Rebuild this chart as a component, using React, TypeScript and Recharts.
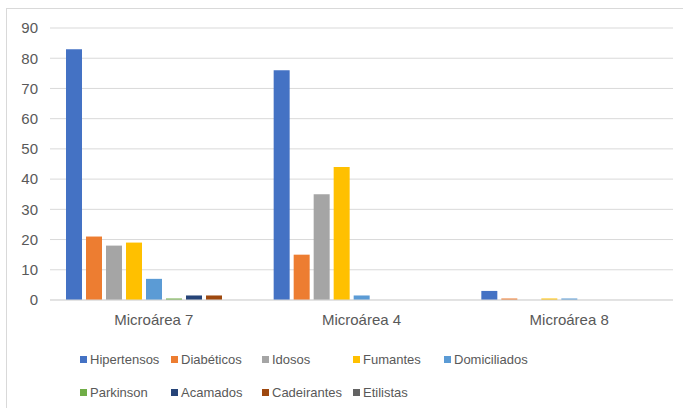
import { Bar, BarChart, CartesianGrid, Legend, XAxis, YAxis } from "recharts";

const areas = ["Microárea 7", "Microárea 4", "Microárea 8"];

const hipertensos = [83, 76, 3];
const diabeticos = [21, 15, 0.5];
const idosos = [18, 35, 0];
const fumantes = [19, 44, 0.5];
const domiciliados = [7, 1.5, 0.5];
const parkinson = [0.5, 0, 0];
const acamados = [1.5, 0, 0];
const cadeirantes = [1.5, 0, 0];
const etilistas = [0, 0, 0];

const yTicks = [0, 10, 20, 30, 40, 50, 60, 70, 80, 90];

const SERIES = [
  { key: "hip", name: "Hipertensos", color: "#4472C4", values: hipertensos },
  { key: "dia", name: "Diabéticos", color: "#ED7D31", values: diabeticos },
  { key: "ido", name: "Idosos", color: "#A5A5A5", values: idosos },
  { key: "fum", name: "Fumantes", color: "#FFC000", values: fumantes },
  { key: "dom", name: "Domiciliados", color: "#5B9BD5", values: domiciliados },
  { key: "par", name: "Parkinson", color: "#70AD47", values: parkinson },
  { key: "aca", name: "Acamados", color: "#264478", values: acamados },
  { key: "cad", name: "Cadeirantes", color: "#9E480E", values: cadeirantes },
  { key: "eti", name: "Etilistas", color: "#636363", values: etilistas },
];

const data = areas.map((area, i) => {
  const row: any = { area };
  SERIES.forEach((s) => (row[s.key] = s.values[i]));
  return row;
});

const FONT = "'Liberation Sans', Arial, sans-serif";
const TEXT = "#595959";
const GRID = "#d9d9d9";

// legend keeps series order (recharts would sort it otherwise)
function LegendGrid() {
  return (
    <div
      style={{
        display: "grid",
        gridTemplateColumns: "repeat(5, 91px)",
        rowGap: 17,
        paddingLeft: 78,
        paddingTop: 15,
        fontFamily: FONT,
        fontSize: 13,
        color: TEXT,
      }}
    >
      {SERIES.map((s) => (
        <div key={s.key} style={{ display: "flex", alignItems: "center", height: 16, whiteSpace: "nowrap" }}>
          <span style={{ display: "inline-block", width: 7, height: 7, background: s.color, marginRight: 3 }} />
          {s.name}
        </div>
      ))}
    </div>
  );
}

export default function App() {
  return (
    <div style={{ position: "fixed", left: 0, top: 0, width: 683, height: 408, background: "#fff", overflow: "hidden" }}>
      <div style={{ position: "absolute", left: 6, top: 8, width: 690, height: 420, border: `1px solid ${GRID}` }} />
      <BarChart
        width={683}
        height={408}
        data={data}
        margin={{ top: 28, right: 10, left: 2, bottom: 8 }}
        barSize={16}
        barGap={4}
        style={{ fontFamily: FONT }}
      >
        <CartesianGrid vertical={false} stroke={GRID} />
        <XAxis
          dataKey="area"
          tick={{ fontSize: 15, fill: TEXT }}
          axisLine={{ stroke: GRID }}
          tickLine={false}
          height={36}
          tickMargin={8}
        />
        <YAxis
          domain={[0, 90]}
          ticks={yTicks}
          tick={{ fontSize: 15, fill: TEXT }}
          axisLine={false}
          tickLine={false}
          width={48}
          tickMargin={6}
        />
        <Legend verticalAlign="bottom" content={<LegendGrid />} wrapperStyle={{ height: 64 }} />
        {SERIES.map((s) => (
          <Bar key={s.key} dataKey={s.key} name={s.name} fill={s.color} isAnimationActive={false} />
        ))}
      </BarChart>
    </div>
  );
}
